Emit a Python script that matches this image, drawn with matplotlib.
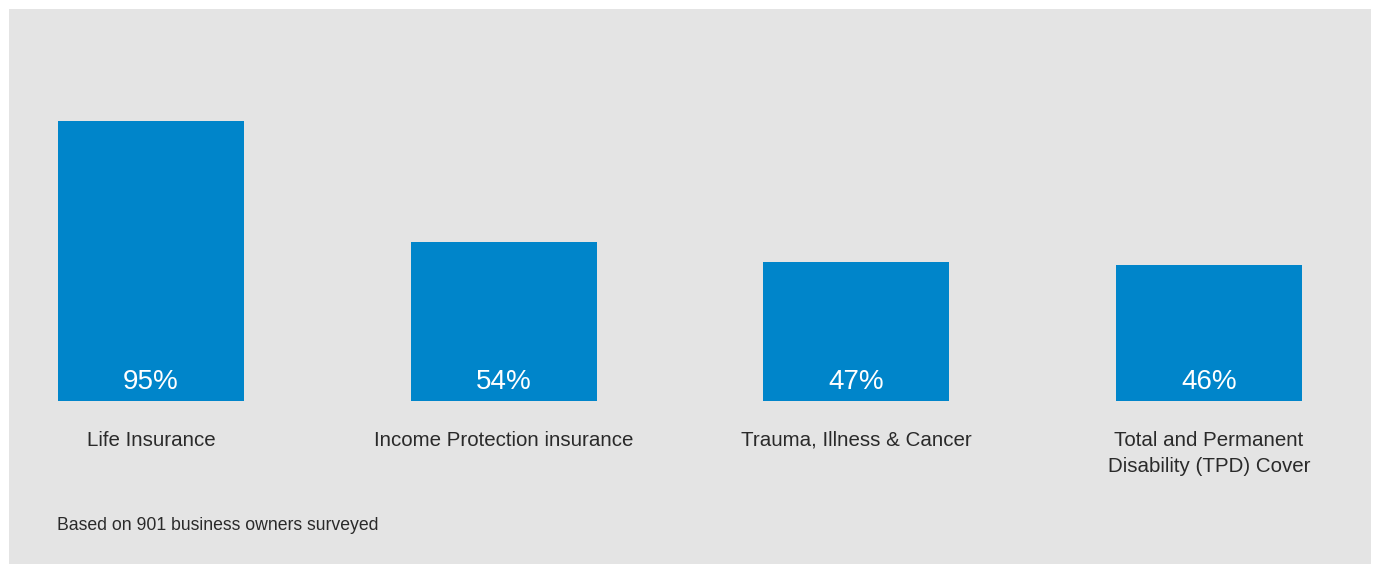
import matplotlib.pyplot as plt
from matplotlib.patches import Rectangle

categories = ["Life Insurance", "Income Protection insurance",
              "Trauma, Illness & Cancer", "Total and Permanent\nDisability (TPD) Cover"]
values = [95, 54, 47, 46]
value_labels = ["95%", "54%", "47%", "46%"]
footnote = "Based on 901 business owners surveyed"

bar_color = "#0085ca"
panel_color = "#e4e4e4"
text_color = "#2a2a2a"

plt.rcParams["font.family"] = ["Liberation Sans", "DejaVu Sans"]

W, H = 1376, 564
fig = plt.figure(figsize=(W / 100, H / 100), dpi=100)
fig.patch.set_facecolor("white")

# grey panel behind everything
fig.patches.append(Rectangle((9 / W, 0), (1371 - 9) / W, (H - 9) / H,
                             transform=fig.transFigure, facecolor=panel_color,
                             edgecolor="none", zorder=-1))

# axes spans the full width; bars sit on pixel row 401
ax = fig.add_axes([0, (H - 401) / H, 1, 295 / H])
ax.set_zorder(1)
ax.set_facecolor("none")
spacing = 352.7
ax.set_xlim(-151 / spacing, (W - 151) / spacing)
ax.set_ylim(0, 100)
ax.axis("off")

x = range(len(values))
ax.bar(x, values, width=186 / spacing, color=bar_color, zorder=2)

for i, (v, lab) in enumerate(zip(values, value_labels)):
    ax.text(i, 6.4, lab, ha="center", va="center", color="white",
            fontsize=20, zorder=3)
    ax.annotate(categories[i], xy=(i, 0), xytext=(0, -21.5),
                textcoords="offset points", ha="center", va="top",
                fontsize=14.8, color=text_color, linespacing=1.45,
                annotation_clip=False)

fig.text(57 / W, 1 - 525 / H, footnote, ha="left", va="center",
         fontsize=12.7, color=text_color, zorder=2)

fig.savefig("out.png", dpi=100, facecolor=fig.get_facecolor())
